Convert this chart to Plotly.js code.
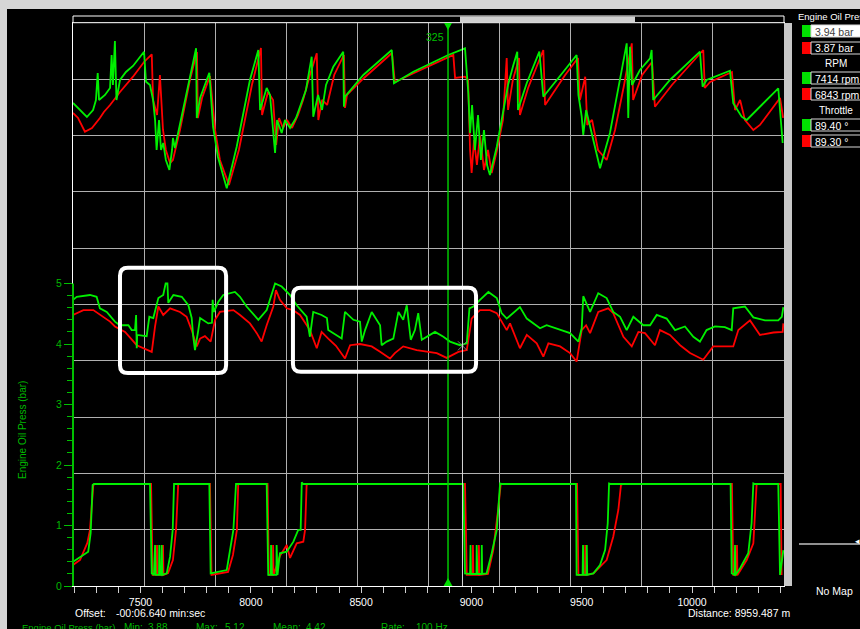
<!DOCTYPE html>
<html><head><meta charset="utf-8">
<script src="https://cdn.plot.ly/plotly-3.0.1.min.js"></script>
<style>html,body{margin:0;padding:0;background:#000;overflow:hidden}#chart{width:860px;height:629px}</style>
</head><body><div id="chart"></div>
<script>
// ---------- DATA (distance in m) ----------
const rpmGreenDist = [7194,7226,7257,7285,7298,7306,7312,7339,7362,7369,7375,7384,7391,7407,7434,7466,7516,7525,7543,7557,7566,7573,7584,7593,7603,7615,7631,7643,7647,7656,7702,7752,7755,7770,7812,7829,7851,7891,7936,7996,8034,8042,8072,8087,8110,8119,8140,8155,8178,8205,8223,8250,8276,8283,8305,8323,8341,8374,8419,8422,8427,8510,8639,8649,8737,8895,8971,8986,8994,9003,9016,9030,9043,9057,9071,9084,9115,9143,9166,9188,9208,9211,9251,9308,9326,9417,9477,9485,9500,9507,9520,9545,9583,9628,9674,9704,9711,9719,9728,9764,9810,9817,9824,9900,10036,10048,10066,10172,10187,10225,10248,10391,10411];
const rpmGreen = [6193,6018,5843,6018,6268,6943,6268,6393,6568,7393,6643,7743,6268,6768,6968,7118,7475,6725,6643,6268,5768,5018,5768,5018,5193,4768,4518,5018,5318,5068,6268,7560,5818,6318,6950,5593,4843,4060,5100,6768,7518,6018,6568,6393,4943,5768,5443,5768,5568,5818,6100,6518,7350,5850,6393,6018,6643,7100,7475,6100,6350,6893,7518,6685,6975,7393,7560,6435,5443,6143,5018,5893,4768,5518,4643,4393,5100,5943,6643,7100,7475,6018,6693,7475,6350,6975,7393,6393,5850,5393,6018,5443,4560,5443,6768,7685,5818,7600,6643,7018,7310,7518,6268,6768,7475,6600,6768,7000,6185,5850,5768,6560,5193];

const rpmRedDist = [7194,7217,7248,7280,7316,7334,7362,7407,7466,7516,7551,7557,7575,7588,7602,7615,7634,7647,7679,7724,7756,7760,7779,7815,7838,7860,7901,7946,8005,8037,8046,8051,8078,8101,8115,8128,8146,8164,8187,8214,8237,8268,8299,8306,8323,8346,8378,8422,8427,8436,8513,8640,8653,8740,8885,8918,8926,8971,8985,8994,9001,9012,9025,9039,9057,9075,9092,9116,9143,9160,9166,9188,9216,9220,9257,9311,9326,9334,9425,9483,9492,9516,9525,9547,9574,9613,9651,9692,9727,9733,9774,9819,9832,9909,10051,10058,10082,10181,10195,10218,10240,10278,10308,10399,10413];
const rpmRed = [5943,5818,5475,5568,5818,5968,6143,6468,6850,7218,7410,6268,5893,6893,5518,5018,4693,4768,5518,6768,7468,5818,6318,6868,5518,4768,4143,5018,6643,7368,7568,5893,6468,6268,5143,5818,5568,5768,5568,5893,6268,6893,7435,5768,6268,6143,6893,7393,6068,6393,6818,7443,6718,6943,7318,7393,6818,6850,6768,5018,4443,5268,4643,5393,4518,5018,4443,5018,5768,7318,6018,6768,7318,5893,6568,7318,7518,6143,6893,7318,6268,6850,5643,5768,5018,4768,5518,6643,7685,6268,6893,7218,6100,6643,7518,6568,6718,6968,6018,6268,5768,5518,5643,6318,5818];

const oilGreenDist = [7194,7211,7271,7301,7316,7347,7384,7407,7445,7460,7475,7480,7483,7485,7528,7540,7558,7581,7603,7614,7622,7626,7649,7687,7717,7732,7739,7747,7762,7770,7807,7824,7827,7833,7853,7875,7928,7951,7981,8034,8072,8110,8140,8178,8208,8253,8268,8283,8321,8345,8351,8412,8427,8465,8495,8503,8518,8548,8586,8593,8616,8646,8669,8691,8707,8725,8744,8759,8775,8797,8835,8873,8903,8948,8979,8991,9009,9039,9077,9115,9137,9160,9220,9251,9311,9341,9379,9447,9485,9500,9507,9538,9575,9613,9643,9674,9704,9734,9779,9810,9840,9885,9923,9968,10006,10036,10066,10104,10149,10180,10187,10240,10278,10331,10391,10407,10414];
const oilGreen = [4.73,4.78,4.81,4.78,4.59,4.53,4.37,4.31,4.31,4.23,4.23,4.48,3.93,4.15,4.13,4.45,4.43,4.76,4.81,5.00,5.00,4.68,4.81,4.78,4.64,4.43,4.12,3.90,4.23,4.43,4.34,4.35,4.73,4.53,4.70,4.81,4.86,4.78,4.62,4.40,4.56,5.00,4.95,4.81,4.64,4.45,4.12,4.53,4.48,4.43,4.23,4.09,4.53,4.40,4.37,4.04,4.23,4.53,4.31,3.98,4.04,4.09,4.53,4.40,4.64,4.07,4.23,4.51,4.07,4.12,4.20,4.12,4.04,3.98,4.01,4.59,4.62,4.73,4.86,4.76,4.51,4.42,4.61,4.42,4.26,4.31,4.26,4.18,4.04,4.26,4.79,4.53,4.84,4.76,4.53,4.45,4.23,4.45,4.31,4.31,4.48,4.42,4.23,4.29,4.12,4.04,4.23,4.29,4.28,4.23,4.59,4.62,4.44,4.39,4.39,4.45,4.61];

const oilRedDist = [7194,7241,7286,7316,7362,7384,7430,7483,7528,7551,7566,7581,7603,7634,7679,7709,7732,7755,7770,7792,7818,7838,7860,7921,7951,7996,8027,8049,8072,8102,8114,8132,8163,8191,8223,8268,8299,8321,8351,8386,8427,8450,8495,8548,8586,8631,8653,8691,8752,8797,8843,8888,8918,8941,8979,9001,9024,9039,9084,9115,9160,9175,9220,9251,9296,9326,9349,9402,9447,9477,9500,9520,9538,9575,9620,9643,9689,9727,9757,9787,9832,9855,9900,9946,9991,10051,10096,10187,10210,10263,10308,10369,10411,10414];
const oilRed = [4.48,4.56,4.56,4.48,4.37,4.29,4.20,3.98,3.90,3.87,4.29,4.62,4.48,4.59,4.53,4.45,4.23,3.96,4.09,4.13,4.04,4.40,4.53,4.56,4.48,4.34,4.18,4.04,4.31,4.62,4.89,4.73,4.59,4.56,4.48,4.23,3.93,4.20,4.09,3.97,3.76,3.98,4.00,3.96,3.87,3.76,3.85,3.96,3.90,3.87,3.85,3.77,3.82,3.87,3.90,4.42,4.51,4.56,4.56,4.51,4.23,4.34,3.93,4.15,4.01,3.79,4.01,3.96,3.85,3.71,4.23,4.31,4.18,4.53,4.59,4.51,4.12,3.96,4.20,4.18,3.98,4.23,4.15,3.98,3.85,3.74,3.96,3.96,4.23,4.39,4.15,4.19,4.20,4.34];

const thrGreenDist = [7194,7241,7263,7274,7283,7289,7543,7551,7561,7566,7569,7584,7585,7588,7595,7596,7599,7619,7634,7646,7652,7812,7818,7891,7906,7921,7933,8072,8079,8091,8092,8096,8116,8117,8121,8132,8163,8193,8215,8226,8231,8237,8963,8971,8994,8996,8998,9023,9024,9027,9046,9047,9049,9069,9092,9115,9130,9139,9474,9477,9504,9506,9508,9522,9523,9525,9553,9583,9606,9618,9624,9633,10175,10180,10193,10195,10197,10218,10255,10270,10278,10285,10391,10399,10414];
const thrGreen = [17.0,23.3,26.4,43.5,88.5,89.4,89.4,6.2,4.7,32.6,4.7,4.7,32.6,4.7,4.7,32.6,4.7,6.2,21.7,46.6,89.4,89.4,6.2,9.3,26.4,46.6,89.4,89.4,4.7,4.7,32.6,4.7,4.7,32.6,4.7,24.9,26.4,35.7,46.6,46.6,91.0,89.4,89.4,6.2,5.6,32.6,5.6,5.6,32.6,5.6,5.6,32.6,5.6,6.2,24.9,46.6,90.0,89.4,89.4,4.7,4.7,32.6,4.7,4.7,32.6,4.7,6.2,14.0,27.9,52.8,90.0,89.4,89.4,6.2,4.7,32.6,4.7,10.9,24.9,52.8,90.0,89.4,89.4,4.7,27.9];

const thrRedDist = [7194,7226,7259,7271,7286,7294,7548,7555,7574,7575,7577,7601,7602,7604,7625,7647,7661,7671,7815,7822,7897,7919,7937,7943,8076,8082,8100,8101,8103,8132,8163,8178,8208,8238,8246,8253,8259,8971,8979,9006,9007,9009,9033,9034,9036,9075,9099,9122,9133,9479,9485,9515,9516,9518,9553,9613,9643,9666,9678,9687,10181,10187,10203,10204,10206,10248,10278,10293,10402,10406];
const thrRed = [14.0,18.6,34.5,46.6,88.5,89.4,89.4,4.7,4.7,32.6,4.7,4.7,32.6,4.7,6.5,18.6,46.6,89.4,89.4,4.7,7.5,23.3,46.6,89.4,89.4,4.7,4.7,32.6,4.7,22.4,32.6,20.5,34.2,35.7,46.6,88.5,89.4,89.4,4.7,4.7,32.6,4.7,4.7,32.6,4.7,5.6,27.9,67.0,89.4,89.4,4.7,4.7,32.6,4.7,6.2,18.6,40.3,65.2,88.5,89.4,89.4,4.7,4.7,32.6,4.7,18.6,34.2,89.4,89.4,4.7];

const oilTickVals = [0,1,2,3,4,5];
const xTickStep = 500;
const cursorDist = 8894, cursorLabel = '325';
const markerDist = 8959.487, markerOil = 3.97;
const boxDist0 = [7407, 8191], boxDist1 = [7888, 9021];
const boxOil0 = [3.52, 3.54], boxOil1 = [5.26, 4.93];

const readoutTitles = ['Engine Oil Press', 'RPM', 'Throttle'];
const readoutGreen = ['3.94 bar', '7414 rpm', '89.40 °'];
const readoutRed = ['3.87 bar', '6843 rpm', '89.30 °'];
const statLabels = ['Min:', 'Max:', 'Mean:', 'Rate:'];
const statValues = ['3.88', '5.12', '4.42', '100 Hz'];
const offsetText = '-00:06.640 min:sec';
const distanceText = 'Distance: 8959.487 m';
const channelName = 'Engine Oil Press (bar)';

// ---------- LAYOUT ----------
const W = 860, H = 629, L = 73, R = 76, T = 23, B = 43;
const PW = W - L - R, PH = H - T - B;
const px2x = p => (p - L) / PW;
const py2y = p => (H - B - p) / PH;
const FF = 'Liberation Sans, Arial, sans-serif';
const GREEN = '#00f000', RED = '#ff0000', TG = '#00b800';

function line(dist, vals, color, yaxis) {
  return {type: 'scatter', mode: 'lines', x: dist, y: vals, yaxis: yaxis,
    line: {color: color, width: 1.8}, hoverinfo: 'skip', showlegend: false};
}
const traces = [
  {type:'scatter', mode:'markers', x:[0,10], y:[0,10], xaxis:'x2', yaxis:'y4', marker:{opacity:0}, hoverinfo:'skip', showlegend:false},
  line(thrRedDist, thrRed, RED, 'y3'),
  line(thrGreenDist, thrGreen, GREEN, 'y3'),
  line(oilRedDist, oilRed, RED, 'y'),
  line(oilGreenDist, oilGreen, GREEN, 'y'),
  line(rpmRedDist, rpmRed, RED, 'y2'),
  line(rpmGreenDist, rpmGreen, GREEN, 'y2'),
  {type:'scatter', mode:'markers', x:[markerDist], y:[markerOil], yaxis:'y',
   marker:{symbol:'x-thin-open', size:9, line:{color:'#b8b8b8', width:1}}, hoverinfo:'skip', showlegend:false}
];

function rrect(x0, x1, y0, y1, rx, ry) {
  return `M ${x0+rx},${y1} L ${x1-rx},${y1} Q ${x1},${y1} ${x1},${y1-ry} L ${x1},${y0+ry} Q ${x1},${y0} ${x1-rx},${y0} L ${x0+rx},${y0} Q ${x0},${y0} ${x0},${y0+ry} L ${x0},${y1-ry} Q ${x0},${y1} ${x0+rx},${y1} Z`;
}
function prect(x0, x1, y0, y1, fill, lc, lw) {
  return {type:'rect', xref:'paper', yref:'paper', x0:px2x(x0), x1:px2x(x1), y0:py2y(y1), y1:py2y(y0),
    fillcolor: fill, line:{color: lc || 'rgba(0,0,0,0)', width: lw || 0}, layer:'above'};
}

const shapes = [
  prect(0, 860, 0, 9, '#d6d6d6'),
  prect(0, 7, 0, 629, '#d6d6d6'),
  prect(73, 784, 16, 22.7, '#000000', '#ffffff', 1),
  prect(460, 635, 16.5, 22.2, '#d0d0d0'),
  prect(784, 792, 23, 586, '#c8c8c8'),
  {type:'line', xref:'paper', yref:'y', x0:0, x1:0, y0:0, y1:5, line:{color:'#00c000', width:2}, layer:'above'},
  {type:'line', xref:'x', yref:'paper', x0:markerDist, x1:markerDist, y0:0, y1:1, line:{color:'#d8d8d8', width:1}, layer:'above'},
  {type:'line', xref:'x', yref:'paper', x0:cursorDist, x1:cursorDist, y0:0, y1:1, line:{color:'#00c800', width:1.5}, layer:'above'},
  {type:'path', xref:'x', yref:'paper', path:`M ${cursorDist-18},1 L ${cursorDist+18},1 L ${cursorDist},${py2y(30)} Z`, fillcolor:'#00e000', line:{width:0}, layer:'above'},
  {type:'path', xref:'x', yref:'paper', path:`M ${cursorDist-20},0 L ${cursorDist+20},0 L ${cursorDist},${py2y(578)} Z`, fillcolor:'#00e000', line:{width:0}, layer:'above'},
  prect(799, 862, 544, 544.01, 'rgba(0,0,0,0)', '#c0c0c0', 1)
];
for (let i = 0; i < boxDist0.length; i++) {
  shapes.push({type:'path', xref:'x', yref:'y', path: rrect(boxDist0[i], boxDist1[i], boxOil0[i], boxOil1[i], 36, 0.13),
    line:{color:'#ffffff', width:4}, fillcolor:'rgba(0,0,0,0)', layer:'above'});
}

function ann(text, px, py, o) {
  return Object.assign({text: text, xref:'paper', yref:'paper', x: px2x(px), y: py2y(py), showarrow:false,
    xanchor:'left', yanchor:'middle', borderpad:0, font:{family:FF, size:10.5, color:'#ffffff'}}, o || {});
}
const annotations = [
  ann(channelName, 22, 430, {xanchor:'center', textangle:-90, font:{family:FF, size:10, color:TG}}),
  ann('Offset:', 74, 613),
  ann(offsetText, 115, 613),
  ann(distanceText, 687, 613),
  ann('No Map', 834, 591, {xanchor:'center'}),
  ann('◂', 857, 541, {xanchor:'center', font:{family:FF, size:9, color:'#ffffff'}}),
  {text: cursorLabel, xref:'x', yref:'paper', x: cursorDist, y: py2y(37), xanchor:'right', yanchor:'middle', xshift:-2,
   showarrow:false, font:{family:FF, size:10.5, color:'#00c000'}},
  ann(channelName, 21, 621, {yanchor:'top', font:{family:FF, size:9.5, color:TG}})
];
const statLabelX = [123, 195, 272, 380], statValX = [147, 224, 305, 415];
for (let i = 0; i < statLabels.length; i++) {
  annotations.push(ann(statLabels[i], statLabelX[i], 621, {yanchor:'top', font:{family:FF, size:10, color:TG}}));
  annotations.push(ann(statValues[i], statValX[i], 621, {yanchor:'top', font:{family:FF, size:10, color:TG}}));
}
const titleY = [17, 64, 111], greenRowY = [25, 72, 119], redRowY = [42, 88, 135];
for (let i = 0; i < readoutTitles.length; i++) {
  if (i === 0) {
    annotations.push(ann(readoutTitles[i], 797, titleY[i], {xanchor:'left', font:{family:FF, size:9.5, color:'#ffffff'}}));
  } else {
    annotations.push(ann(readoutTitles[i], 836, titleY[i], {xanchor:'center', font:{family:FF, size:10, color:'#ffffff'}}));
  }
  shapes.push(prect(802, 811, greenRowY[i], greenRowY[i] + 12, '#00e000'));
  shapes.push(prect(811, 868, greenRowY[i], greenRowY[i] + 12, i === 0 ? '#ffffff' : '#000000', '#d8d8d8', 1));
  shapes.push(prect(802, 811, redRowY[i], redRowY[i] + 12, '#ff0000'));
  shapes.push(prect(811, 868, redRowY[i], redRowY[i] + 12, '#000000', '#d8d8d8', 1));
  annotations.push(ann(readoutGreen[i], 814, greenRowY[i] + 6.5, {font:{family:FF, size:10.5, color: i === 0 ? '#404040' : '#ffffff'}}));
  annotations.push(ann(readoutRed[i], 814, redRowY[i] + 6.5));
}

const minorOil = [];
for (let v = 0; v < 5; v++) for (let k = 1; k < 5; k++) minorOil.push(+(v + k * 0.2).toFixed(1));

const layout = {
  width: W, height: H, margin: {l: L, r: R, t: T, b: B, pad: 0},
  paper_bgcolor: '#000000', plot_bgcolor: '#000000', showlegend: false,
  font: {family: FF, size: 10.5, color: '#ffffff'},
  xaxis: {range: [7194, 10417], tickmode: 'linear', tick0: 0, dtick: xTickStep, tickformat: 'd', ticks: 'outside', ticklen: 6,
    tickcolor: '#d0d0d0', tickfont: {family: FF, size: 10.5, color: '#ffffff'}, showgrid: false, zeroline: false,
    showline: true, linecolor: '#ffffff', linewidth: 1, mirror: true,
    minor: {ticks: 'outside', dtick: 100, tick0: 0, ticklen: 6, tickcolor: '#d0d0d0', showgrid: false}},
  xaxis2: {overlaying: 'x', anchor: 'y', range: [0, 10], tickmode: 'linear', tick0: 0, dtick: 1, showgrid: true,
    gridcolor: '#b0b0b0', gridwidth: 1, showticklabels: false, ticks: '', zeroline: false, showline: false},
  yaxis: {range: [0, PH / 60.5], tickmode: 'array', tickvals: oilTickVals, ticks: 'outside', ticklen: 8,
    tickcolor: '#00c000', tickwidth: 1, tickfont: {family: FF, size: 10.5, color: TG}, showgrid: false, zeroline: false,
    showline: true, linecolor: '#ffffff', linewidth: 1, mirror: true,
    minor: {tickmode: 'array', tickvals: minorOil, ticks: 'outside', ticklen: 5, tickcolor: '#00c000', showgrid: false}},
  yaxis2: {overlaying: 'y', range: [8767.5 - 25 * 586, 8767.5 - 25 * 23], showgrid: false, zeroline: false,
    showticklabels: false, ticks: '', showline: false},
  yaxis3: {overlaying: 'y', range: [(580 - 586) * 0.93125, (580 - 23) * 0.93125], showgrid: false, zeroline: false,
    showticklabels: false, ticks: '', showline: false},
  yaxis4: {overlaying: 'y', range: [0, 10], tickmode: 'linear', tick0: 0, dtick: 1, showgrid: true, gridcolor: '#b0b0b0',
    gridwidth: 1, zeroline: false, showticklabels: false, ticks: '', showline: false},
  shapes: shapes, annotations: annotations
};

Plotly.newPlot('chart', traces, layout, {staticPlot: true, displayModeBar: false});
</script>
</body></html>
